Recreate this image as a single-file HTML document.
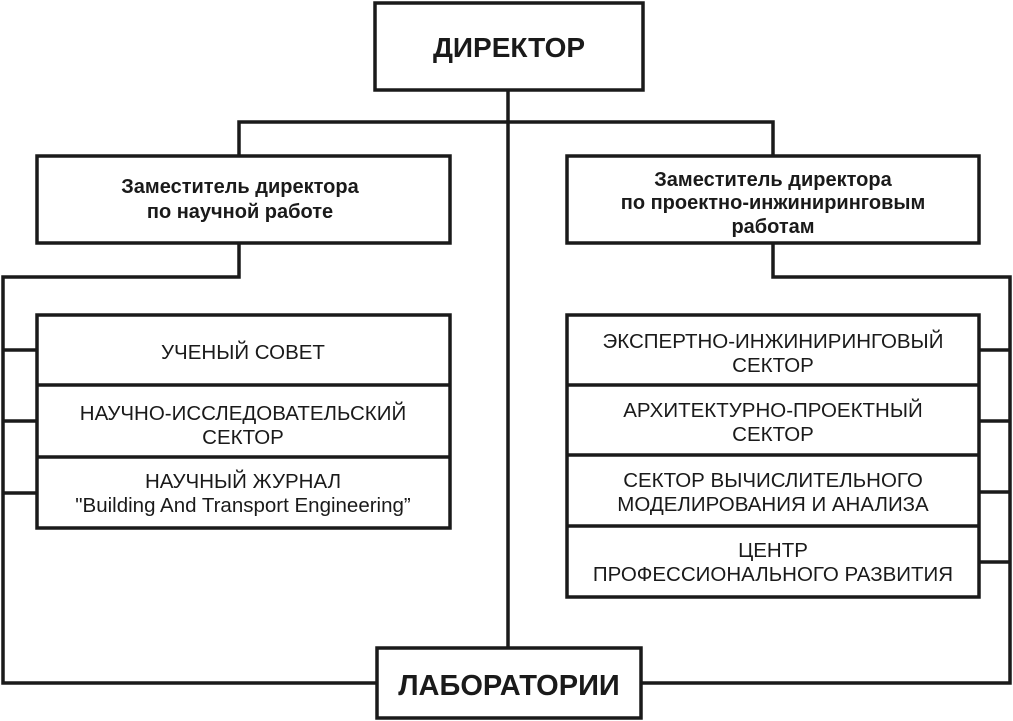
<!DOCTYPE html>
<html><head><meta charset="utf-8"><style>
html,body{margin:0;padding:0;background:#fff;}
svg{display:block}
text{font-family:"Liberation Sans",sans-serif;fill:#1a1a1a;text-anchor:middle}
.b{font-weight:bold}
</style></head><body>
<svg width="1013" height="721" viewBox="0 0 1013 721">
<g fill="none" stroke="#1a1a1a" stroke-width="3.5">
<rect x="375" y="3" width="268" height="87"/>
<rect x="37" y="156" width="413" height="87"/>
<rect x="567" y="156" width="412" height="87"/>
<rect x="37" y="315" width="413" height="213"/>
<line x1="37" y1="385" x2="450" y2="385"/>
<line x1="37" y1="457" x2="450" y2="457"/>
<rect x="567" y="315" width="412" height="282"/>
<line x1="567" y1="385" x2="979" y2="385"/>
<line x1="567" y1="455" x2="979" y2="455"/>
<line x1="567" y1="526" x2="979" y2="526"/>
<rect x="377" y="648" width="264" height="70"/>
<line x1="508" y1="90" x2="508" y2="648"/>
<polyline points="239,156 239,122 773,122 773,156"/>
<polyline points="239,243 239,277 3,277 3,683 377,683"/>
<polyline points="773,243 773,277 1010,277 1010,683 641,683"/>
<line x1="3" y1="350" x2="37" y2="350"/>
<line x1="3" y1="421" x2="37" y2="421"/>
<line x1="3" y1="493" x2="37" y2="493"/>
<line x1="979" y1="350" x2="1010" y2="350"/>
<line x1="979" y1="421" x2="1010" y2="421"/>
<line x1="979" y1="492" x2="1010" y2="492"/>
<line x1="979" y1="562" x2="1010" y2="562"/>
</g>
<text class="b" x="509" y="57" font-size="28">ДИРЕКТОР</text>
<text class="b" x="509" y="695" font-size="29">ЛАБОРАТОРИИ</text>
<g class="b" font-size="20">
<text x="240" y="193">Заместитель директора</text>
<text x="240" y="218">по научной работе</text>
<text x="773" y="186">Заместитель директора</text>
<text x="773" y="209">по проектно-инжиниринговым</text>
<text x="773" y="233">работам</text>
</g>
<g font-size="20.5">
<text x="243" y="359">УЧЕНЫЙ СОВЕТ</text>
<text x="243" y="420">НАУЧНО-ИССЛЕДОВАТЕЛЬСКИЙ</text>
<text x="243" y="444">СЕКТОР</text>
<text x="243" y="488">НАУЧНЫЙ ЖУРНАЛ</text>
<text x="243" y="512">"Building And Transport Engineering”</text>
<text x="773" y="348">ЭКСПЕРТНО-ИНЖИНИРИНГОВЫЙ</text>
<text x="773" y="372">СЕКТОР</text>
<text x="773" y="417">АРХИТЕКТУРНО-ПРОЕКТНЫЙ</text>
<text x="773" y="441">СЕКТОР</text>
<text x="773" y="487">СЕКТОР ВЫЧИСЛИТЕЛЬНОГО</text>
<text x="773" y="511">МОДЕЛИРОВАНИЯ И АНАЛИЗА</text>
<text x="773" y="557">ЦЕНТР</text>
<text x="773" y="581">ПРОФЕССИОНАЛЬНОГО РАЗВИТИЯ</text>
</g>
</svg>
</body></html>
